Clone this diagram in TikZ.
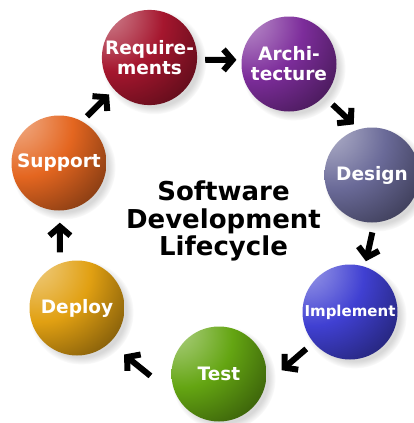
\documentclass[tikz,border=0pt]{standalone}
\usepackage{fontspec}
\setmainfont{DejaVu Sans}
\usetikzlibrary{arrows.meta,shadows}
\definecolor{cReq}{RGB}{165,22,46}
\definecolor{cArch}{RGB}{125,45,155}
\definecolor{cDes}{RGB}{106,106,152}
\definecolor{cImp}{RGB}{64,64,210}
\definecolor{cTest}{RGB}{100,165,18}
\definecolor{cDep}{RGB}{225,160,18}
\definecolor{cSup}{RGB}{228,102,32}
\newcommand\mkball[2]{%
  \pgfdeclareradialshading{#1}{\pgfpoint{-25bp}{25bp}}{%
    color(0bp)=(#2!50!white);
    color(14bp)=(#2!75!white);
    color(27bp)=(#2);
    color(44bp)=(#2!68!black);
    color(58bp)=(#2!42!black);
    color(68bp)=(#2!32!black);
    color(130bp)=(#2!30!black)}}
\mkball{shReq}{cReq}
\mkball{shArch}{cArch}
\mkball{shDes}{cDes}
\mkball{shImp}{cImp}
\mkball{shTest}{cTest}
\mkball{shDep}{cDep}
\mkball{shSup}{cSup}
\begin{document}
\begin{tikzpicture}[x=1pt,y=-1pt,
  sphere/.style={circle, inner sep=0pt, minimum size=95pt, text=white, shade, shading=#1,
    font=\bfseries\fontsize{18.5}{20}\selectfont, align=center,
    circular drop shadow={shadow xshift=4pt, shadow yshift=-4pt, opacity=0.3}},
  arr/.style={line width=6pt, -{Straight Barb[length=9pt,width=21pt]}},
  title/.style={font=\bfseries\fontsize{26}{27.5}\selectfont, align=center, text=black}
]
\useasboundingbox[fill=white] (0,0) rectangle (414,423);
\node[sphere=shReq]  (req)  at (149.5,57.5) {Require-\\ments};
\node[sphere=shArch] (arch) at (289,64)     {Archi-\\tecture};
\node[sphere=shDes]  (des)  at (372,175)    {Design};
\node[sphere=shImp, font=\bfseries\fontsize{15}{17}\selectfont] (imp) at (350,312) {Implement};
\node[sphere=shTest] (test) at (219,374)    {Test};
\node[sphere=shDep]  (dep)  at (77,308)     {Deploy};
\node[sphere=shSup]  (sup)  at (59,163)     {Support};
\node[title] (ttl) at (223.5,221) {Software\\Development\\Lifecycle};
\draw[arr, shorten <=8pt, shorten >=5pt] (req.-3) -- (arch.175);
\draw[arr, shorten <=11.7pt, shorten >=7pt] (arch.-43) -- (des.106);
\draw[arr, shorten <=10pt, shorten >=5.5pt] (des.-87) -- (imp.72);
\draw[arr, shorten <=9.5pt, shorten >=21pt] (imp.-140) -- (test.-12);
\draw[arr, shorten <=35pt, shorten >=18.6pt] (test.-150) -- (dep.-47);
\draw[arr, shorten <=11pt, shorten >=12pt] (dep.111) -- (sup.-89);
\draw[arr, shorten <=7pt, shorten >=7pt] (sup.61) -- (req.-138);
\end{tikzpicture}
\end{document}
